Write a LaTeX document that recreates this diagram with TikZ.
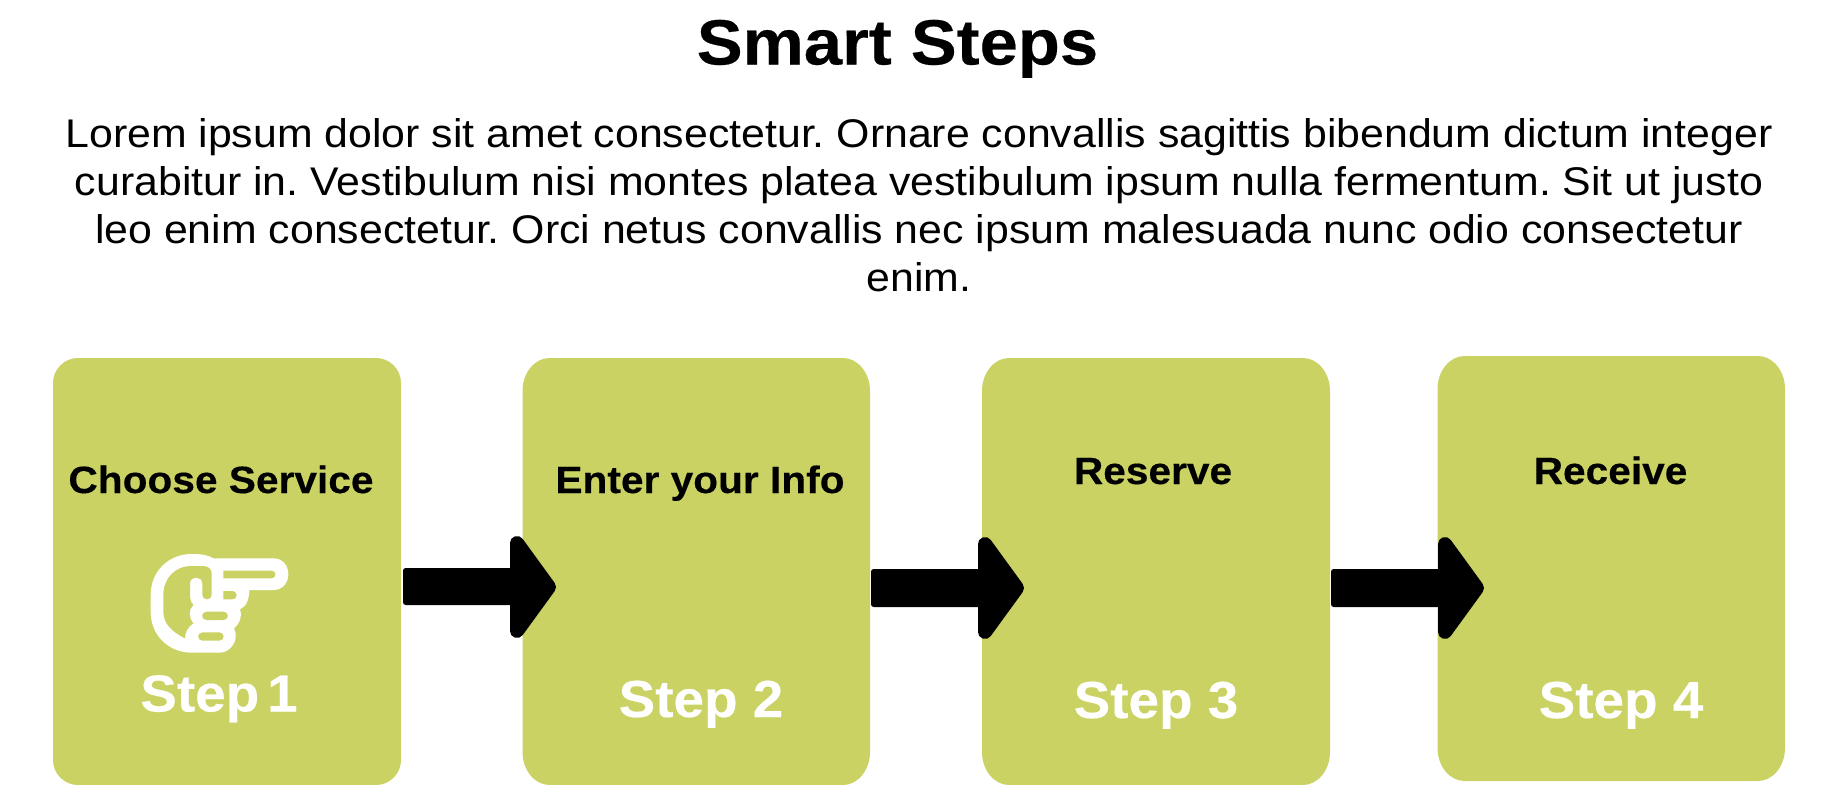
\documentclass[tikz,border=0pt]{standalone}
\usepackage{fontspec}
\setmainfont{Liberation Sans}
\newfontfamily\bodyf{Liberation Sans}[FakeStretch=1.071]
\newfontfamily\ttlf{Liberation Sans}[FakeStretch=1.075,BoldFeatures={FakeBold=0.3}]
\newfontfamily\lblf{Liberation Sans}[FakeStretch=1.07,BoldFeatures={FakeBold=0.3}]
\newfontfamily\stepf{Liberation Sans}[FakeStretch=1.055,BoldFeatures={FakeBold=0.3}]
\definecolor{boxgreen}{HTML}{CAD263}
\newcommand{\stepbox}[7]{% name x1 y1 x2 y2 rx ry
  \path[fill=boxgreen] (#2+#6,#3) -- (#4-#6,#3)
    .. controls (#4-0.45*#6,#3) and (#4,#3+0.45*#7) .. (#4,#3+#7)
    -- (#4,#5-#7)
    .. controls (#4,#5-0.45*#7) and (#4-0.45*#6,#5) .. (#4-#6,#5)
    -- (#2+#6,#5)
    .. controls (#2+0.45*#6,#5) and (#2,#5-0.45*#7) .. (#2,#5-#7)
    -- (#2,#3+#7)
    .. controls (#2,#3+0.45*#7) and (#2+0.45*#6,#3) .. (#2+#6,#3) -- cycle;
  \coordinate (#1) at ({(#2+#4)/2},{(#3+#5)/2});}
\newcommand{\blockarrow}[7]{% x0 xhead xtip ytop ybot headtop headbot
  \path[fill=black,rounded corners=2pt] (#1,#4) -- (#2+4,#4) -- (#2+4,#5) -- (#1,#5) -- cycle;
  \path[fill=black,draw=black,line width=10.5pt,line join=round]
    (#2+7,#6+7) -- (#3-7,{(#6+#7)/2}) -- (#2+7,#7-7) -- cycle;}
\tikzset{
  x=0.75pt,y=-0.75pt,
  lbl/.style={anchor=base,inner sep=0pt,outer sep=0pt,font=\lblf\bfseries\fontsize{28.5}{28.5}\selectfont,text=black},
  stepl/.style={anchor=base,inner sep=0pt,outer sep=0pt,font=\stepf\bfseries\fontsize{39}{39}\selectfont,text=white},
  body/.style={anchor=base,inner sep=0pt,outer sep=0pt,font=\bodyf\frenchspacing\fontsize{30}{30}\selectfont,text=black},
  ttl/.style={anchor=base,inner sep=0pt,outer sep=0pt,font=\ttlf\bfseries\fontsize{48}{48}\selectfont,text=black}
}
\begin{document}
\begin{tikzpicture}
\useasboundingbox (0,0) rectangle (1832,785);
\fill[white] (0,0) rectangle (1832,785);
\node[ttl] (title) at (897.5,64.5) {Smart Steps};
\node[body] (l1) at (919,147.5) {Lorem ipsum dolor sit amet consectetur. Ornare convallis sagittis bibendum dictum integer};
\node[body] (l2) at (919,195.5) {curabitur in. Vestibulum nisi montes platea vestibulum ipsum nulla fermentum. Sit ut justo};
\node[body] (l3) at (919,243.5) {leo enim consectetur. Orci netus convallis nec ipsum malesuada nunc odio consectetur};
\node[body] (l4) at (919,291.5) {enim.};
\stepbox{b1}{53}{358}{401}{785}{25}{25}
\stepbox{b2}{522.5}{358}{870}{785}{27}{33}
\stepbox{b3}{982}{358}{1330}{785}{27}{33}
\stepbox{b4}{1437.5}{356}{1785}{781}{27}{33}
\blockarrow{403}{510}{556}{568}{605}{536}{638}
\blockarrow{871}{978}{1024}{569}{607}{537}{639}
\blockarrow{1331}{1438}{1484}{569}{607}{537}{639}
\node[lbl] (t1) at (221,493) {Choose Service};
\node[lbl] (t2) at (700,493) {Enter your Info};
\node[lbl] (t3) at (1153,484) {Reserve};
\node[lbl] (t4) at (1610.5,484) {Receive};
\node[stepl] (s1) at (219,711.5) {Step\hspace{-0.14em} 1};
\node[stepl] (s2) at (701,717) {Step 2};
\node[stepl] (s3) at (1156,718) {Step 3};
\node[stepl] (s4) at (1621,718) {Step 4};
\begin{scope}[shift={(130,540)},x=0.25pt,y=-0.25pt]
\fill[white] (185,42) .. controls (115,42) and (62,95) .. (62,165) -- (62,215)
 .. controls (62,285) and (115,338) .. (185,338) -- (270,338)
 .. controls (300,338) and (330,300) .. (312,265)
 .. controls (330,250) and (338,225) .. (330,208)
 .. controls (350,200) and (358,175) .. (358,150) -- (430,150)
 .. controls (490,150) and (490,55) .. (430,55) -- (250,55)
 .. controls (235,45) and (215,42) .. (185,42) -- cycle;
\fill[boxgreen] (280,92) -- (425,92) .. controls (440,92) and (440,115) .. (425,115) -- (280,115) -- cycle;
\fill[boxgreen] (280,153) -- (305,153) .. controls (325,153) and (325,178) .. (305,178) -- (280,178) -- cycle;
\fill[boxgreen] (230,215) -- (280,215) .. controls (298,215) and (298,240) .. (280,240) -- (230,240) .. controls (212,240) and (212,215) .. (230,215) -- cycle;
\fill[boxgreen] (218,277) -- (268,277) .. controls (285,277) and (285,302) .. (268,302) -- (218,302) .. controls (200,302) and (200,277) .. (218,277) -- cycle;
\fill[boxgreen] (165,295) .. controls (125,275) and (100,250) .. (100,215) -- (100,165)
 .. controls (100,115) and (135,78) .. (185,78) -- (220,78)
 .. controls (235,78) and (245,88) .. (245,100) -- (245,165)
 .. controls (245,182) and (217,182) .. (217,165) -- (217,130)
 .. controls (217,107) and (180,107) .. (180,130) -- (180,170)
 .. controls (180,180) and (185,190) .. (190,195)
 .. controls (175,210) and (175,230) .. (190,250)
 .. controls (175,260) and (165,275) .. (165,295) -- cycle;
\end{scope}
\end{tikzpicture}
\end{document}
